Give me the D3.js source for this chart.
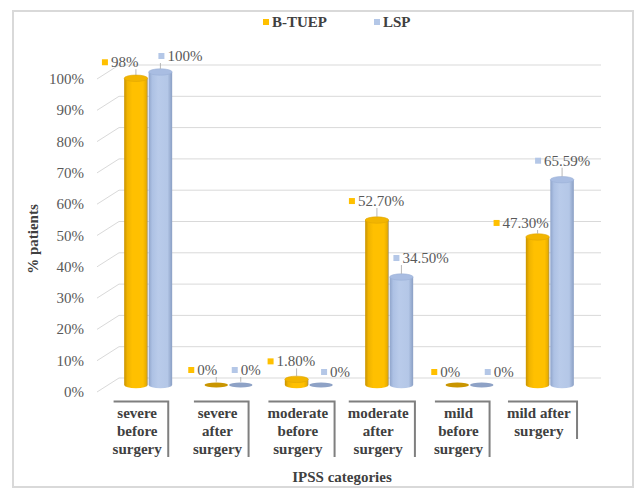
<!DOCTYPE html>
<html>
<head>
<meta charset="utf-8">
<script src="https://cdn.jsdelivr.net/npm/d3@7"></script>
<style>
  html, body { margin: 0; padding: 0; background: #fff; }
  svg { display: block; }
</style>
</head>
<body>
<svg id="chart" width="639" height="493"></svg>
<script>
// ---- data ----
const categories = [
  "severe before surgery", "severe after surgery",
  "moderate before surgery", "moderate after surgery",
  "mild before surgery", "mild after surgery"
];
const categoryLines = [
  ["severe", "before", "surgery"],
  ["severe", "after", "surgery"],
  ["moderate", "before", "surgery"],
  ["moderate", "after", "surgery"],
  ["mild", "before", "surgery"],
  ["mild after", "surgery"]
];
const seriesNames = ["B-TUEP", "LSP"];
const btuepValues = [98, 0, 1.8, 52.7, 0, 47.3];
const lspValues = [100, 0, 0, 34.5, 0, 65.59];
const btuepLabels = ["98%", "0%", "1.80%", "52.70%", "0%", "47.30%"];
const lspLabels = ["100%", "0%", "0%", "34.50%", "0%", "65.59%"];
const yTicks = [0, 10, 20, 30, 40, 50, 60, 70, 80, 90, 100];
const yTickLabels = yTicks.map(t => t + "%");

// label placement relative to the top of each column (square marker left edge / centre)
const btuepLabelOffsets = [[-34, -16], [-28, -15], [-29, -18], [-28, -19], [-26, -13], [-44, -14]];
const lspLabelOffsets = [[-2, -16], [-9, -15], [0, -13], [-8, -19], [3, -13], [-27, -19]];

// ---- layout ----
const svg = d3.select("#chart");
const depthX = 22, depthY = -14;       // oblique offset from front to back wall
const frontLeft = 97, frontRight = 579;
const colors = ["#FFC000", "#B4C7E7"];
const serif = "'Liberation Serif', 'Times New Roman', serif";
const fs = 15;

const x = d3.scaleBand().domain(categories).range([frontLeft, frontRight]);
const y = d3.scaleLinear().domain([0, 100]).range([392, 79]);   // front edge
const series = d3.scaleBand().domain(seriesNames).range([-24, 24]).paddingInner(0.04);

// chart border
svg.append("rect")
  .attr("x", 13).attr("y", 11).attr("width", 620).attr("height", 476)
  .attr("fill", "#fff").attr("stroke", "#d9d9d9").attr("stroke-width", 2);

// gradients for the cylinders
const defs = svg.append("defs");
function bodyGradient(id, stops) {
  const g = defs.append("linearGradient").attr("id", id)
    .attr("x1", "0%").attr("x2", "100%").attr("y1", "0%").attr("y2", "0%");
  stops.forEach(([o, c]) => g.append("stop").attr("offset", o).attr("stop-color", c));
}
bodyGradient("g0", [["0%", "#c99300"], ["14%", "#f0b400"], ["35%", "#ffc000"], ["80%", "#ffc000"], ["94%", "#e8ad00"], ["100%", "#9a8a60"]]);
bodyGradient("g1", [["0%", "#8fa4ca"], ["15%", "#adc1e4"], ["40%", "#b9cbea"], ["80%", "#b4c7e7"], ["100%", "#8a9fc4"]]);
const topFill = ["#f2b500", "#a9bde2"];
const flatFill = ["#c99500", "#8ea2c6"];

// gridlines: side wall diagonals and back wall horizontals
const grid = svg.append("g").attr("stroke", "#d9d9d9").attr("stroke-width", 1).attr("fill", "none");
yTicks.forEach(t => {
  grid.append("line")
    .attr("x1", frontLeft).attr("y1", y(t))
    .attr("x2", frontLeft + depthX).attr("y2", y(t) + depthY);
  grid.append("line")
    .attr("x1", frontLeft + depthX).attr("y1", y(t) + depthY)
    .attr("x2", frontRight + depthX).attr("y2", y(t) + depthY);
});

// y tick labels
svg.append("g").selectAll("text").data(yTicks).join("text")
  .attr("x", 84).attr("y", d => y(d) + 5)
  .attr("text-anchor", "end")
  .style("font-family", serif)
  .attr("font-size", fs).attr("fill", "#595959")
  .text((d, i) => yTickLabels[i]);

// y axis title
svg.append("text")
  .attr("transform", "translate(38,239) rotate(-90)")
  .attr("text-anchor", "middle")
  .style("font-family", serif)
  .attr("font-size", fs).attr("font-weight", "bold").attr("fill", "#404040")
  .text("% patients");

// cylinders
const ry = 3.2;
const allSeries = [btuepValues, lspValues];
const allLabels = [btuepLabels, lspLabels];
const allOffsets = [btuepLabelOffsets, lspLabelOffsets];
const barsG = svg.append("g");
const tops = [];
allSeries.forEach((vals, s) => {
  vals.forEach((v, i) => {
    const c = categories[i];
    const cx = x(c) + x.bandwidth() / 2 + depthX / 2 + series(seriesNames[s]) + series.bandwidth() / 2;
    const w = series.bandwidth();
    const rx = w / 2;
    const base = y(0) + depthY / 2;
    const top = y(v) + depthY / 2;
    tops.push({ s, i, cx, top });
    if (v <= 0) {
      barsG.append("ellipse")
        .attr("cx", cx).attr("cy", base).attr("rx", rx).attr("ry", 2.4)
        .attr("fill", flatFill[s]);
      return;
    }
    barsG.append("path")
      .attr("d", `M${cx - rx},${top} L${cx - rx},${base} A${rx},${ry} 0 0 0 ${cx + rx},${base} L${cx + rx},${top} Z`)
      .attr("fill", `url(#g${s})`);
    barsG.append("ellipse")
      .attr("cx", cx).attr("cy", top).attr("rx", rx).attr("ry", ry)
      .attr("fill", topFill[s]).attr("stroke", s === 0 ? "#e0a600" : "#9bb0d6").attr("stroke-width", 0.6);
  });
});

// data labels with colour keys and leader lines
const lab = svg.append("g")
  .style("font-family", serif)
  .attr("font-size", fs).attr("fill", "#595959");
tops.forEach(({ s, i, cx, top }) => {
  const [dx, dy] = allOffsets[s][i];
  const sx = cx + dx, sy = top + dy;
  lab.append("rect").attr("x", sx).attr("y", sy - 3).attr("width", 6).attr("height", 6)
    .attr("fill", colors[s]);
  const t = lab.append("text").attr("x", sx + 9).attr("y", sy + 5).text(allLabels[s][i]);
  const bb = t.node().getBBox();
  const lx = Math.max(sx, Math.min(cx, bb.x + bb.width));
  const ly = sy + 7;
  const ty = top - ry;
  if (ty - ly > 3) {
    lab.append("line").attr("x1", lx).attr("y1", ly).attr("x2", cx).attr("y2", ty)
      .attr("stroke", "#a6a6a6").attr("stroke-width", 0.8);
  }
});

// category labels with bracket ticks
const catG = svg.append("g")
  .style("font-family", serif)
  .attr("font-size", fs).attr("font-weight", "bold").attr("fill", "#404040");
categories.forEach((c, i) => {
  const cx = x(c) + x.bandwidth() / 2;
  const g = catG.append("g");
  const txt = g.append("text").attr("text-anchor", "middle");
  categoryLines[i].forEach((line, k) => {
    txt.append("tspan").attr("x", cx).attr("y", 418 + k * 18).text(line);
  });
  const bb = txt.node().getBBox();
  const left = bb.x + 1, right = bb.x + bb.width + 6, bottom = bb.y + bb.height;
  g.append("path")
    .attr("d", `M${left},401.5 L${right},401.5 L${right},${bottom}`)
    .attr("fill", "none").attr("stroke", "#7f7f7f").attr("stroke-width", 2);
});

// x axis title
svg.append("text")
  .attr("x", 342).attr("y", 482).attr("text-anchor", "middle")
  .style("font-family", serif)
  .attr("font-size", fs).attr("font-weight", "bold").attr("fill", "#404040")
  .text("IPSS categories");

// legend
const legend = svg.append("g")
  .style("font-family", serif)
  .attr("font-size", fs).attr("font-weight", "bold").attr("fill", "#404040");
const legendX = [263, 374];
seriesNames.forEach((n, s) => {
  legend.append("rect").attr("x", legendX[s]).attr("y", 19).attr("width", 6).attr("height", 6)
    .attr("fill", colors[s]);
  legend.append("text").attr("x", legendX[s] + 9).attr("y", 27).text(n);
});
</script>
</body>
</html>
